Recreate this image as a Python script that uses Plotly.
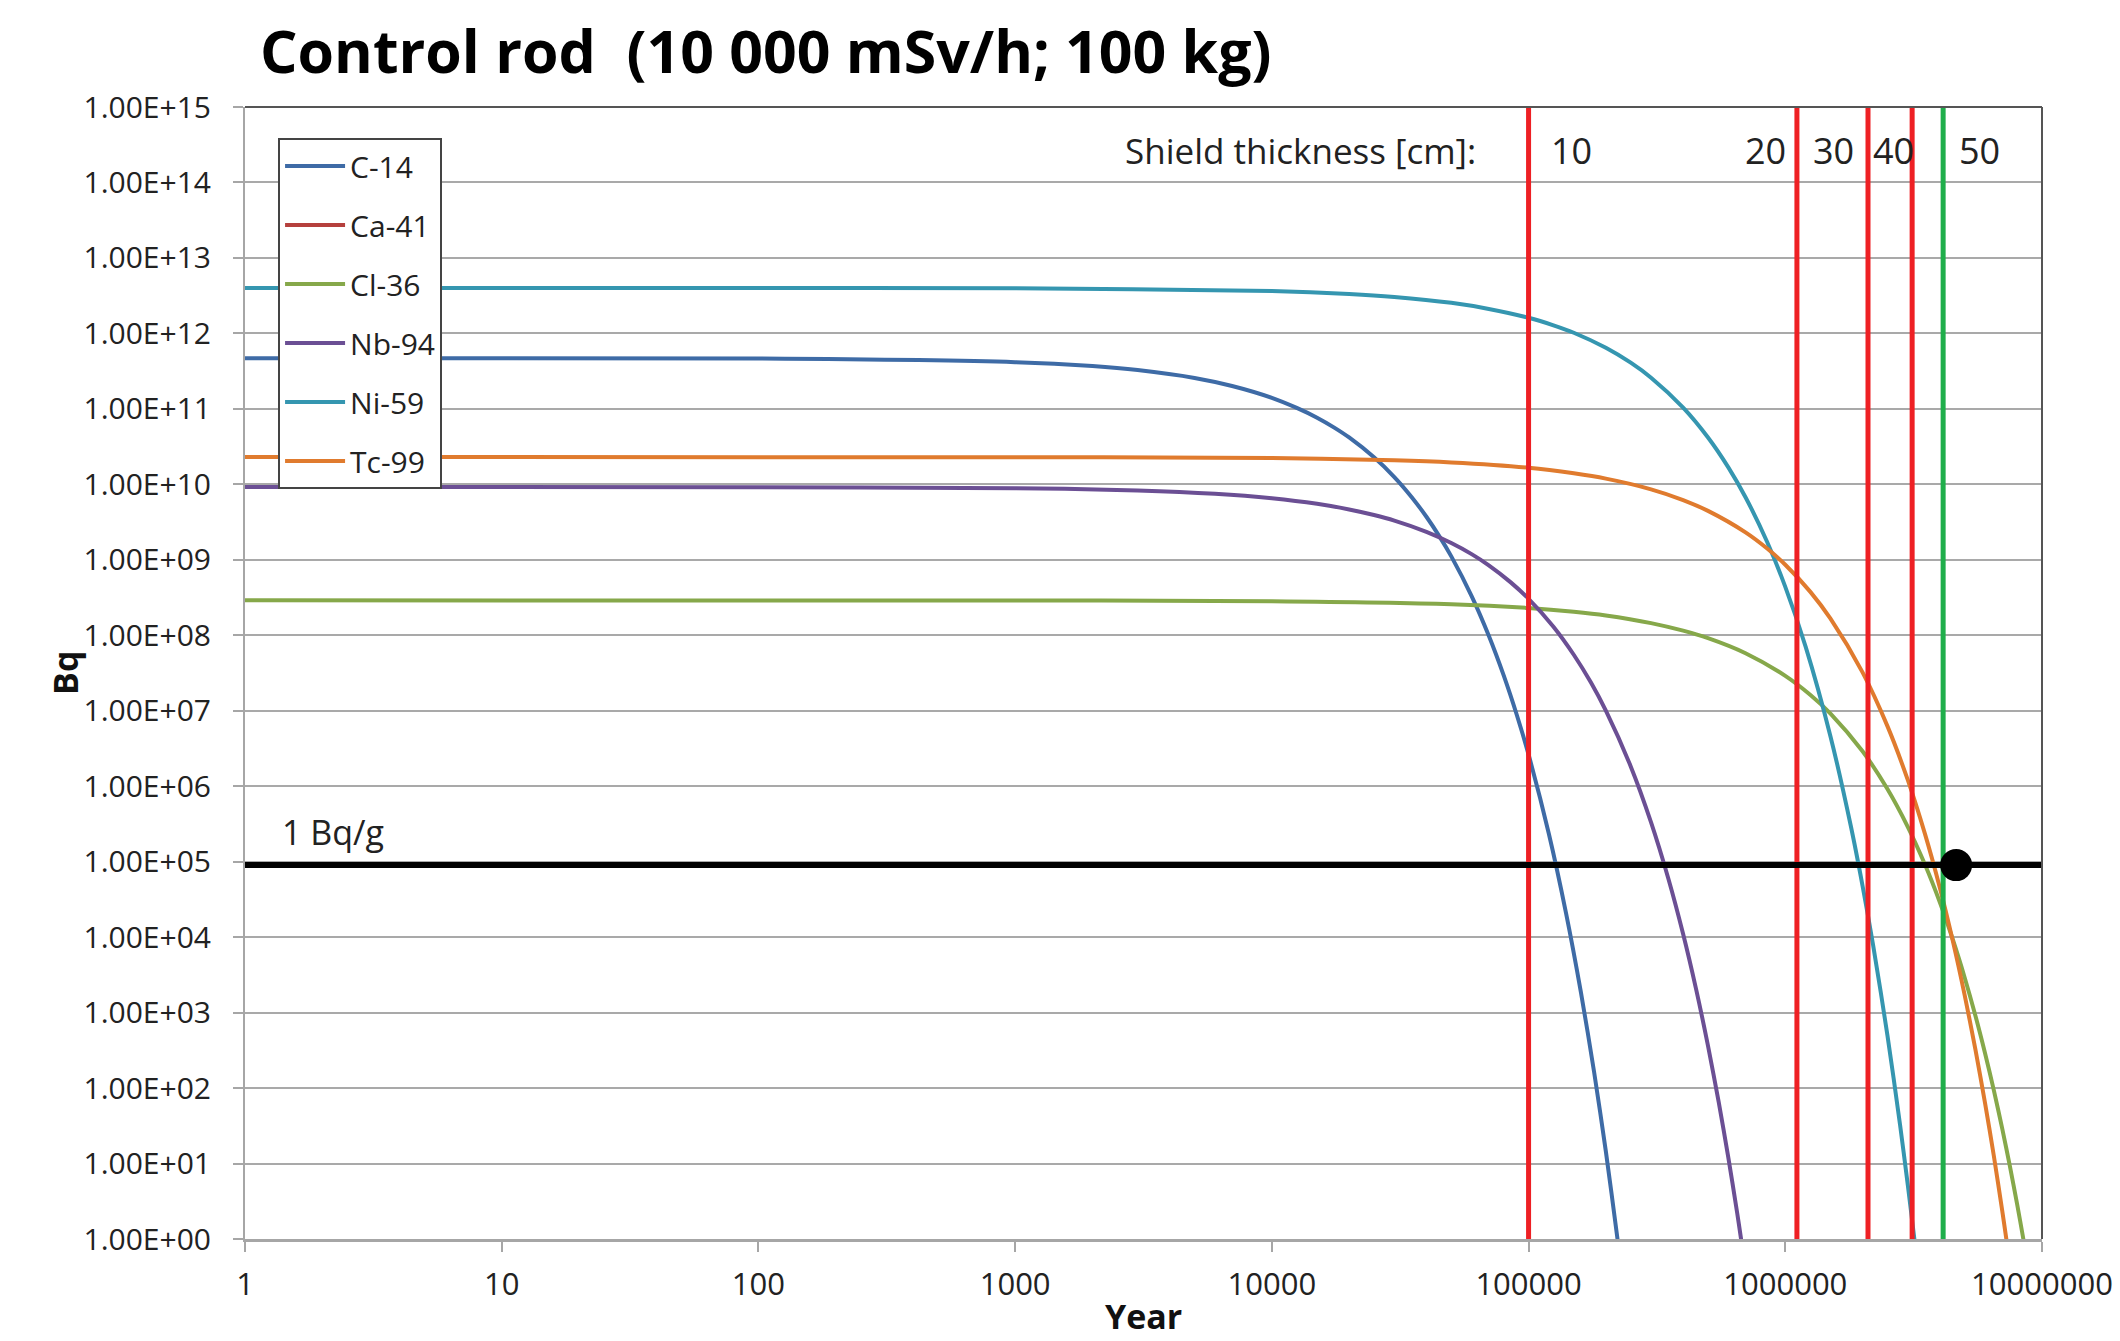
import math
import plotly.graph_objects as go

# ---------------- data ----------------
nuclides = ["C-14", "Ca-41", "Cl-36", "Nb-94", "Ni-59", "Tc-99"]
colors = ["#3E6BA6", "#B5403D", "#86A84A", "#6B4F94", "#3596B0", "#E07B2E"]

years_c14 = [1, 100, 1000, 2000, 3000, 5000, 7000, 10000, 12500, 15000, 17500, 20000, 25000, 30000,
             35000, 40000, 45000, 50000, 60000, 70000, 80000, 90000, 100000, 120000, 140000, 160000,
             180000, 200000, 222000, 235000]
bq_c14 = [4.7e11, 4.64e11, 4.16e11, 3.69e11, 3.27e11, 2.57e11, 2.01e11, 1.40e11, 1.03e11, 7.65e10,
          5.65e10, 4.18e10, 2.28e10, 1.25e10, 6.81e9, 3.72e9, 2.03e9, 1.11e9, 3.31e8, 9.86e7,
          2.94e7, 8.78e6, 2.62e6, 2.33e5, 2.07e4, 1.84e3, 1.63e2, 14.5, 1.0, 0.22]

years_ca41 = [None]
bq_ca41 = [None]

years_cl36 = [1, 1000, 10000, 50000, 100000, 150000, 200000, 300000, 400000, 500000, 700000,
              1000000, 1250000, 1500000, 2000000, 2500000, 3000000, 3500000, 4000000, 4500000,
              5000000, 5500000, 6000000, 6500000, 7000000, 7500000, 8000000, 8460000, 8800000]
bq_cl36 = [2.9e8, 2.89e8, 2.83e8, 2.58e8, 2.30e8, 2.05e8, 1.83e8, 1.45e8, 1.15e8, 9.17e7, 5.79e7,
           2.90e7, 1.63e7, 9.17e6, 2.90e6, 9.17e5, 2.90e5, 9.17e4, 2.90e4, 9.17e3, 2.90e3, 917,
           290, 91.7, 29, 9.17, 2.9, 1.0, 0.46]

years_nb94 = [1, 100, 1000, 3000, 6000, 10000, 15000, 20000, 25000, 30000, 40000, 50000, 60000,
              70000, 85000, 100000, 125000, 150000, 175000, 200000, 250000, 300000, 350000, 400000,
              450000, 500000, 550000, 600000, 650000, 672000, 700000]
bq_nb94 = [9.2e9, 9.17e9, 8.89e9, 8.31e9, 7.50e9, 6.54e9, 5.52e9, 4.65e9, 3.92e9, 3.31e9, 2.35e9,
           1.67e9, 1.19e9, 8.45e8, 5.06e8, 3.04e8, 1.30e8, 5.52e7, 2.36e7, 1.00e7, 1.83e6, 3.32e5,
           6.04e4, 1.10e4, 2.0e3, 362, 65.9, 12.0, 2.18, 1.02, 0.40]

years_ni59 = [1, 100, 1000, 10000, 20000, 30000, 50000, 70000, 100000, 125000, 150000, 200000,
              250000, 300000, 400000, 500000, 600000, 700000, 850000, 1000000, 1200000, 1500000,
              1800000, 2000000, 2200000, 2500000, 2800000, 3000000, 3180000, 3300000]
bq_ni59 = [4.0e12, 4.0e12, 3.96e12, 3.65e12, 3.33e12, 3.04e12, 2.54e12, 2.11e12, 1.61e12, 1.28e12,
           1.02e12, 6.45e11, 4.09e11, 2.59e11, 1.04e11, 4.18e10, 1.68e10, 6.75e9, 1.72e9, 4.38e8,
           7.07e7, 4.57e6, 2.97e5, 4.79e4, 7.73e3, 5.0e2, 32.4, 5.23, 1.02, 0.34]

years_tc99 = [1, 1000, 10000, 30000, 50000, 100000, 150000, 200000, 300000, 400000, 500000, 700000,
              850000, 1000000, 1250000, 1500000, 2000000, 2500000, 3000000, 3500000, 4000000,
              4500000, 5000000, 5500000, 6000000, 6500000, 7000000, 7260000, 7500000]
bq_tc99 = [2.3e10, 2.29e10, 2.23e10, 2.08e10, 1.95e10, 1.66e10, 1.40e10, 1.19e10, 8.59e9, 6.19e9,
           4.45e9, 2.31e9, 1.41e9, 8.61e8, 3.79e8, 1.66e8, 3.22e7, 6.25e6, 1.21e6, 2.33e5, 4.51e4,
           8.73e3, 1.69e3, 327, 63.3, 12.3, 2.37, 1.01, 0.46]

series_years = [years_c14, years_ca41, years_cl36, years_nb94, years_ni59, years_tc99]
series_bq = [bq_c14, bq_ca41, bq_cl36, bq_nb94, bq_ni59, bq_tc99]

shield_line_years = [1.0e5, 1.11e6, 2.10e6, 3.12e6]   # red lines
green_line_year = 4.12e6                               # green line
shield_labels = ["10", "20", "30", "40", "50"]
shield_label_years = [1.47e5, 8.4e5, 1.54e6, 2.63e6, 5.69e6]
limit_bq = 9.0e4          # 1 Bq/g line as drawn
dot_year = 4.63e6

x_min, x_max = 1, 1e7
y_min, y_max = 1e0, 1e15
x_tickvals = [1, 10, 100, 1000, 10000, 100000, 1000000, 10000000]
x_ticktext = ["1", "10", "100", "1000", "10000", "100000", "1000000", "10000000"]
y_tickvals = [1e0, 1e1, 1e2, 1e3, 1e4, 1e5, 1e6, 1e7, 1e8, 1e9, 1e10, 1e11, 1e12, 1e13, 1e14, 1e15]
y_ticktext = ["1.00E+00", "1.00E+01", "1.00E+02", "1.00E+03", "1.00E+04", "1.00E+05",
              "1.00E+06", "1.00E+07", "1.00E+08", "1.00E+09", "1.00E+10", "1.00E+11",
              "1.00E+12", "1.00E+13", "1.00E+14", "1.00E+15"]

# ---------------- figure ----------------
FONT = "Open Sans"
fig = go.Figure()

for name, col, xs, ys in zip(nuclides, colors, series_years, series_bq):
    fig.add_trace(go.Scatter(x=xs, y=ys, mode="lines", name=name, legendgroup=name,
                             line=dict(color=col, width=4, shape="spline", smoothing=0.8)))

for xv in shield_line_years:
    fig.add_trace(go.Scatter(x=[xv, xv], y=[y_min, y_max], mode="lines", showlegend=False,
                             hoverinfo="skip", line=dict(color="#EE2024", width=5)))
fig.add_trace(go.Scatter(x=[green_line_year, green_line_year], y=[y_min, y_max], mode="lines",
                         showlegend=False, hoverinfo="skip", line=dict(color="#1FAE4B", width=5)))

fig.add_trace(go.Scatter(x=[x_min, x_max], y=[limit_bq, limit_bq], mode="lines", showlegend=False,
                         hoverinfo="skip", line=dict(color="#000000", width=6)))
fig.add_trace(go.Scatter(x=[dot_year], y=[limit_bq], mode="markers", showlegend=False,
                         marker=dict(color="#000000", size=32)))

annotations = [
    dict(text="Shield thickness [cm]:", x=0.686, y=14.43, xref="paper", yref="y",
         xanchor="right", yanchor="middle", showarrow=False, font=dict(family=FONT, size=35, color="#222")),
    dict(text="1 Bq/g", x=0.0195, y=0.3595, xref="paper", yref="paper", xanchor="left",
         yanchor="middle", showarrow=False, font=dict(family=FONT, size=34, color="#222")),
    dict(text="Year", x=0.5, y=-0.0899, xref="paper", yref="paper", xanchor="center",
         yanchor="bottom", showarrow=False, font=dict(family=FONT, size=34, color="#111", weight="bold")),
    dict(text="Bq", x=-0.1002, y=0.5, xref="paper", yref="paper", xanchor="center",
         yanchor="middle", textangle=-90, showarrow=False,
         font=dict(family=FONT, size=34, color="#111", weight="bold")),
]
for lab, yr in zip(shield_labels, shield_label_years):
    annotations.append(dict(text=lab, x=math.log10(yr), y=14.43, xref="x", yref="y",
                            xanchor="center", yanchor="middle", showarrow=False,
                            font=dict(family=FONT, size=36, color="#222")))

shapes = [
    dict(type="line", xref="paper", yref="paper", x0=0, x1=1, y0=1, y1=1,
         line=dict(color="#555555", width=2)),
    dict(type="line", xref="paper", yref="paper", x0=1, x1=1, y0=0, y1=1,
         line=dict(color="#555555", width=2)),
]

fig.update_layout(
    width=2120, height=1341,
    margin=dict(l=245, r=78, t=107, b=102, autoexpand=False),
    paper_bgcolor="white", plot_bgcolor="white",
    title=dict(text="Control rod\u00a0 (10 000 mSv/h; 100 kg)", x=260 / 2120, xanchor="left",
               xref="container", y=1 - 52 / 1341, yanchor="middle", yref="container",
               font=dict(family=FONT, size=59, color="#000", weight="bold")),
    showlegend=True,
    legend=dict(x=0.0184, y=0.9726, xanchor="left", yanchor="top", bgcolor="white",
                bordercolor="#444444", borderwidth=2, traceorder="grouped", tracegroupgap=17,
                itemwidth=60, font=dict(family=FONT, size=30, color="#222")),
    xaxis=dict(type="log", range=[math.log10(x_min), math.log10(x_max)], tickvals=x_tickvals,
               ticktext=x_ticktext, showgrid=False, zeroline=False, showline=True, automargin=False,
               linecolor="#a6a6a6", linewidth=3, ticks="outside", ticklen=10, tickcolor="#a6a6a6",
               tickwidth=2, ticklabelstandoff=6, tickfont=dict(family=FONT, size=31, color="#222")),
    yaxis=dict(type="log", range=[math.log10(y_min), math.log10(y_max)], tickvals=y_tickvals,
               ticktext=y_ticktext, showgrid=True, gridcolor="#a9a9a9", gridwidth=2, automargin=False,
               zeroline=False, showline=True, linecolor="#a6a6a6", linewidth=2, ticks="outside",
               ticklen=10, tickcolor="#a6a6a6", tickwidth=2, ticklabelstandoff=16,
               tickfont=dict(family=FONT, size=30, color="#222")),
    annotations=annotations,
    shapes=shapes,
)

fig.write_html("out.html")
